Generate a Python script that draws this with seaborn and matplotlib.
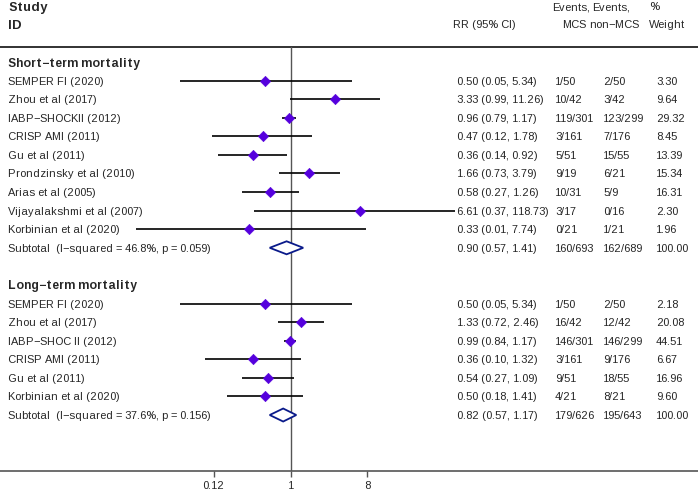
import numpy as np
import pandas as pd
import matplotlib
matplotlib.use("Agg")
import matplotlib.pyplot as plt
from matplotlib.patches import Polygon
import seaborn as sns

sns.set_style("white")
plt.rcParams["font.family"] = ["Liberation Sans", "DejaVu Sans"]
plt.rcParams["text.hinting"] = "auto"
plt.rcParams["text.hinting_factor"] = 1

# short-term mortality
short_study = ["SEMPER FI (2020)", "Zhou et al (2017)", "IABP\u2212SHOCKII (2012)",
               "CRISP AMI (2011)", "Gu et al (2011)", "Prondzinsky et al (2010)",
               "Arias et al (2005)", "Vijayalakshmi et al (2007)", "Korbinian et al (2020)"]
short_rr = [0.50, 3.33, 0.96, 0.47, 0.36, 1.66, 0.58, 6.61, 0.33]
short_lo = [0.05, 0.99, 0.79, 0.12, 0.14, 0.73, 0.27, 0.37, 0.01]
short_hi = [5.34, 11.26, 1.17, 1.78, 0.92, 3.79, 1.26, 118.73, 7.74]
short_mcs = ["1/50", "10/42", "119/301", "3/161", "5/51", "9/19", "10/31", "3/17", "0/21"]
short_non = ["2/50", "3/42", "123/299", "7/176", "15/55", "6/21", "5/9", "0/16", "1/21"]
short_w = [3.30, 9.64, 29.32, 8.45, 13.39, 15.34, 16.31, 2.30, 1.96]
short_sub = [0.90, 0.57, 1.41]
short_sub_ev = ["160/693", "162/689"]
short_sub_lab = "Subtotal  (I\u2212squared = 46.8%, p = 0.059)"

# long-term mortality
long_study = ["SEMPER FI (2020)", "Zhou et al (2017)", "IABP\u2212SHOC II (2012)",
              "CRISP AMI (2011)", "Gu et al (2011)", "Korbinian et al (2020)"]
long_rr = [0.50, 1.33, 0.99, 0.36, 0.54, 0.50]
long_lo = [0.05, 0.72, 0.84, 0.10, 0.27, 0.18]
long_hi = [5.34, 2.46, 1.17, 1.32, 1.09, 1.41]
long_mcs = ["1/50", "16/42", "146/301", "3/161", "9/51", "4/21"]
long_non = ["2/50", "12/42", "146/299", "9/176", "18/55", "8/21"]
long_w = [2.18, 20.08, 44.51, 6.67, 16.96, 9.60]
long_sub = [0.82, 0.57, 1.17]
long_sub_ev = ["179/626", "195/643"]
long_sub_lab = "Subtotal  (I\u2212squared = 37.6%, p = 0.156)"

W, H = 698, 491
fig = plt.figure(figsize=(W / 100, H / 100), dpi=100)
ax0 = fig.add_axes([0, 0, 1, 1])
ax0.set_xlim(0, W)
ax0.set_ylim(H, 0)
ax0.axis("off")

# forest panel in pixel layout
px_one, px_per_ln = 290.5, 37.0
left_px, right_px, top_px, bot_px = 136, 455, 47, 471
axf = fig.add_axes([left_px / W, (H - bot_px) / H, (right_px - left_px) / W, (bot_px - top_px) / H])
axf.patch.set_alpha(0)
axf.set_xscale("log")
axf.set_xlim(np.exp((left_px - px_one) / px_per_ln), np.exp((right_px - px_one) / px_per_ln))
axf.set_ylim(bot_px, top_px)
for s in axf.spines.values():
    s.set_visible(False)
axf.set_yticks([])
axf.set_xticks([0.125, 1, 8])
axf.set_xticklabels(["0.12", "1", "8"])
axf.minorticks_off()
axf.tick_params(axis="x", direction="out", length=4.5, width=1, color="#555555",
                labelsize=7.7, pad=3, bottom=True)
axf.axvline(1, color="#555555", lw=1)

row0, step = 62, 18.58
fs, fsb = 7.7, 8.6
c_rr, c_mcs, c_non, c_w = 457, 555, 603, 656
VA = "center_baseline"


def txt(x, y, s, **kw):
    kw.setdefault("fontsize", fs)
    ax0.text(x, y, s, va=VA, **kw)


def draw_group(start, title, study, rr, lo, hi, mcs, non, w, sub, sub_ev, sub_lab):
    txt(8, row0 + step * start, title, fontsize=fsb, fontweight="bold")
    ys = [row0 + step * (start + 1 + i) for i in range(len(study))]
    axf.hlines(ys, lo, hi, color="black", lw=1.2)
    df = pd.DataFrame({"rr": rr, "y": ys})
    sns.scatterplot(data=df, x="rr", y="y", marker="D", color="#5500dd",
                    edgecolor="#5500dd", s=28, ax=axf, zorder=3)
    for i, y in enumerate(ys):
        txt(8, y, study[i])
        txt(c_rr, y, f"{rr[i]:.2f} ({lo[i]:.2f}, {hi[i]:.2f})")
        txt(c_mcs, y, mcs[i])
        txt(c_non, y, non[i])
        txt(c_w, y, f"{w[i]:.2f}")
    ys_sub = row0 + step * (start + 1 + len(study))
    est, l, h = sub
    axf.add_patch(Polygon([(l, ys_sub), (est, ys_sub - 6.5), (h, ys_sub), (est, ys_sub + 6.5)],
                          closed=True, facecolor="white", edgecolor="#0a1a8a", lw=1.3, zorder=4))
    txt(8, ys_sub, sub_lab)
    txt(c_rr, ys_sub, f"{est:.2f} ({l:.2f}, {h:.2f})")
    txt(c_mcs, ys_sub, sub_ev[0])
    txt(c_non, ys_sub, sub_ev[1])
    txt(c_w, ys_sub, "100.00")


draw_group(0, "Short\u2212term mortality", short_study, short_rr, short_lo, short_hi,
           short_mcs, short_non, short_w, short_sub, short_sub_ev, short_sub_lab)
draw_group(12, "Long\u2212term mortality", long_study, long_rr, long_lo, long_hi,
           long_mcs, long_non, long_w, long_sub, long_sub_ev, long_sub_lab)
axf.set_xlabel("")
axf.set_ylabel("")

# header
txt(8, 6, "Study", fontsize=9, fontweight="bold")
txt(8, 24, "ID", fontsize=9, fontweight="bold")
txt(453, 24, "RR (95% CI)")
txt(552, 6, "Events,")
txt(562, 24, "MCS")
txt(592, 6, "Events,")
txt(589, 24, "non\u2212MCS")
txt(649, 6, "%")
txt(649, 24, "Weight")
ax0.plot([0, W], [top_px, top_px], color="#222222", lw=1.3)
ax0.plot([0, W], [bot_px, bot_px], color="#555555", lw=1.2)

fig.savefig("out.png", dpi=100)
